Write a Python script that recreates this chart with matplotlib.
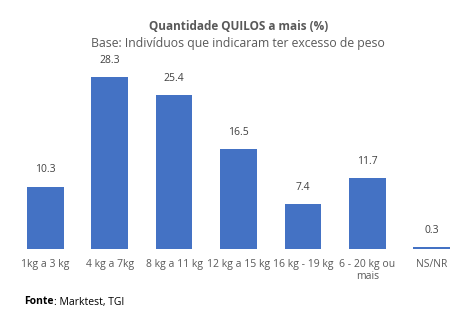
import matplotlib.pyplot as plt

categorias = ['1kg a 3 kg', '4 kg a 7kg', '8 kg a 11 kg', '12 kg a 15 kg',
              '16 kg - 19 kg', '6 - 20 kg ou\nmais', 'NS/NR']
valores = [10.3, 28.3, 25.4, 16.5, 7.4, 11.7, 0.3]

plt.rcParams['font.family'] = ['Open Sans', 'DejaVu Sans']

fig = plt.figure(figsize=(4.69, 3.23), dpi=100)
ax = fig.add_axes([13 / 469, 1 - 249 / 323, 451 / 469, 182 / 323])

x = range(len(valores))
ax.bar(x, valores, width=0.57, color='#4472C4')
for i, v in enumerate(valores):
    ax.annotate(f'{v:.1f}', (i, v), xytext=(0, 8), textcoords='offset points',
                ha='center', va='bottom', fontsize=7.5, color='#404040',
                annotation_clip=False)

ax.set_xlim(-0.5, len(valores) - 0.5)
ax.set_ylim(0, 30)
ax.set_xticks(list(x))
ax.set_xticklabels(categorias, fontsize=7.5, color='#595959', linespacing=1.2)
ax.tick_params(axis='x', length=0, pad=7)
ax.set_yticks([])
for s in ax.spines.values():
    s.set_visible(False)

fig.text(239 / 469, 1 - 26 / 323, 'Quantidade QUILOS a mais (%)', ha='center',
         va='center', fontsize=8.5, fontweight='bold', color='#595959')
fig.text(238 / 469, 1 - 44 / 323, 'Base: Indivíduos que indicaram ter excesso de peso',
         ha='center', va='center', fontsize=8.8, color='#595959')

# rodapé: "Fonte" a negrito, resto normal
fonte = fig.text(24 / 469, 1 - 302 / 323, 'Fonte', ha='left', va='center',
                 fontsize=7.5, fontweight='bold', color='black')
fig.canvas.draw()
bb = fonte.get_window_extent()
fig.text(bb.x1 / 469, 1 - 302 / 323, ': Marktest, TGI', ha='left', va='center',
         fontsize=7.5, color='black')

fig.savefig('out.png', dpi=100)
